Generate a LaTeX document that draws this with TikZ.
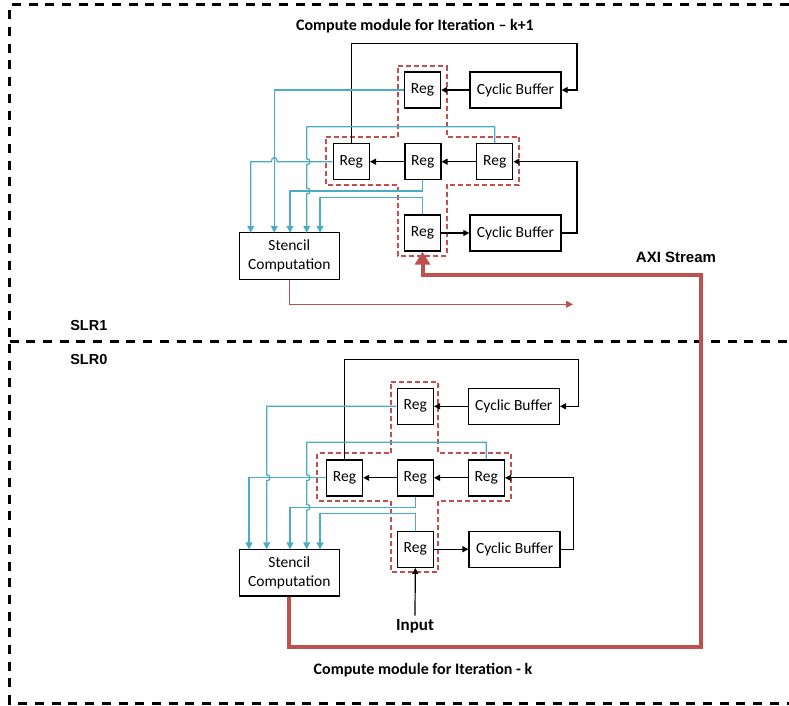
\documentclass[tikz,border=0pt]{standalone}
\usepackage{fontspec}
\setmainfont{Carlito}
\newfontfamily\arialfont{Liberation Sans}
\usetikzlibrary{arrows.meta}
\definecolor{boxred}{HTML}{C0504D}
\definecolor{wire}{HTML}{4BACC6}
\tikzset{
  box/.style={draw=black, line width=1.4pt, fill=white, inner sep=0pt,
    font=\fontsize{15.5}{19}\selectfont},
  regbox/.style={box, minimum width=36pt, minimum height=36pt},
  bufbox/.style={box, minimum width=91pt, minimum height=36pt},
  stenbox/.style={box, minimum width=100pt, minimum height=46.5pt, align=center},
  link/.style={line width=1.2pt, -{Triangle[length=6pt,width=6pt]}},
  wireline/.style={wire, line width=1.3pt, -{Triangle[length=7pt,width=7pt]}},
  group/.style={boxred, line width=1.9pt, dash pattern=on 5pt off 3pt},
  axi/.style={boxred, line width=4pt, -{Triangle[length=13pt,width=15pt]}},
  result/.style={boxred, line width=1.2pt, -{Triangle[length=7pt,width=7pt]}},
  region/.style={line width=3pt, dash pattern=on 9pt off 7.7pt},
  title/.style={font=\bfseries\fontsize{16}{18}\selectfont},
  slr/.style={font=\arialfont\bfseries\fontsize{14.5}{16}\selectfont},
}
\begin{document}
\begin{tikzpicture}[x=1pt, y=-1pt]
\useasboundingbox (0,0) rectangle (789,706);

% ---------- SLR regions ----------
\coordinate (bTR) at (789,5);
\coordinate (bTL) at (9.5,5);
\coordinate (bBL) at (9.5,703);
\coordinate (bBR) at (789,703);
\coordinate (dL) at (9.5,341.7);
\coordinate (dR) at (789,341.7);
\draw[region] (bTR) -- (bTL) -- (bBL) -- (bBR);
\draw[region] (dL) -- (dR);
\node[slr] (slr1) at (88.8,325.7) {SLR1};
\node[slr] (slr0) at (88.8,360) {SLR0};

% ================= module k+1 (SLR1) =================
\node[title] (utitle) at (415,26) {Compute module for Iteration – k+1};

\draw[group] (398.3,66) -- (446.7,66) -- (446.7,136.7) -- (519.3,136.7)
  -- (519.3,185) -- (446.7,185) -- (446.7,256) -- (398.3,256) -- (398.3,185)
  -- (326,185) -- (326,136.7) -- (398.3,136.7) -- cycle;

\node[regbox] (uRegT) at (422.5,90) {Reg};
\node[bufbox] (uCBT) at (515.5,90) {Cyclic Buffer};
\node[regbox] (uRegL) at (351.3,161.7) {Reg};
\node[regbox] (uRegM) at (422.8,161.7) {Reg};
\node[regbox] (uRegR) at (494.7,161.7) {Reg};
\node[regbox] (uRegB) at (422.5,233) {Reg};
\node[bufbox] (uCBB) at (515.5,233) {Cyclic Buffer};
\node[stenbox] (uSten) at (289.3,256) {Stencil\\Computation};

\coordinate (uTop) at (577,43.5);
\coordinate (uRet) at (577,161.7);
\draw[link] (uCBT.west) -- (uRegT.east);
\draw[link] (uRegM.west) -- (uRegL.east);
\draw[link] (uRegR.west) -- (uRegM.east);
\draw[link] (uRegB.east) -- (uCBB.west);
\draw[link] (uCBB.east) -| (uRet) -- (uRegR.east);
\draw[link] (uRegL.north) |- (uTop) |- (uCBT.east);

\coordinate (uIn1) at (250.7,232.75);
\coordinate (uIn2) at (274.3,232.75);
\coordinate (uIn3) at (290,232.75);
\coordinate (uIn4) at (306.7,232.75);
\coordinate (uIn5) at (320,232.75);
\draw[wireline] (uRegT.west) -| (uIn2);
\draw[wireline] (uRegL.west) -- (277.3,161.7) .. controls (277.3,156.2) and (271.3,156.2) .. (271.3,161.7) -- (250.7,161.7) -- (uIn1);
\draw[wireline] (uRegR.north) |- (306.7,126.7) -- (306.7,158.7)
  .. controls (311.2,158.7) and (311.2,164.7) .. (306.7,164.7) -- (306.7,188)
  .. controls (311.2,188) and (311.2,194) .. (306.7,194) -- (uIn4);
\draw[wireline] (uRegM.south) |- (290,191) -- (uIn3);
\draw[wireline] (uRegB.north) |- (320,197.3) -- (uIn5);

\coordinate (uOut) at (573,304.3);
\draw[result] (uSten.south) |- (uOut);

% ================= module k (SLR0) =================
\node[title] (ltitle) at (423,670) {Compute module for Iteration - k};

\draw[group] (390.7,382.3) -- (438.3,382.3) -- (438.3,453.3) -- (511,453.3)
  -- (511,500.7) -- (438.3,500.7) -- (438.3,571.7) -- (390.7,571.7) -- (390.7,500.7)
  -- (317.3,500.7) -- (317.3,453.3) -- (390.7,453.3) -- cycle;

\node[regbox] (lRegT) at (415.3,406.3) {Reg};
\node[bufbox] (lCBT) at (513.8,406.3) {Cyclic Buffer};
\node[regbox] (lRegL) at (344.5,477.8) {Reg};
\node[regbox] (lRegM) at (415.3,477.8) {Reg};
\node[regbox] (lRegR) at (486.3,477.8) {Reg};
\node[regbox] (lRegB) at (415.3,549.2) {Reg};
\node[bufbox] (lCBB) at (514.6,549.2) {Cyclic Buffer};
\node[stenbox] (lSten) at (289.3,572.7) {Stencil\\Computation};
\node[font=\bfseries\fontsize{17}{19}\selectfont] (inp) at (415,626) {Input};

\coordinate (lTop) at (578.3,359.3);
\coordinate (lRet) at (573.3,477.8);
\draw[link] (lCBT.west) -- (lRegT.east);
\draw[link] (lRegM.west) -- (lRegL.east);
\draw[link] (lRegR.west) -- (lRegM.east);
\draw[link] (lRegB.east) -- (lCBB.west);
\draw[link] (lCBB.east) -| (lRet) -- (lRegR.east);
\draw[link] (lRegL.north) |- (lTop) |- (lCBT.east);
\draw[link] (inp.north) -- (lRegB.south);

\coordinate (lIn1) at (249,549.3);
\coordinate (lIn2) at (266.7,549.3);
\coordinate (lIn3) at (290,549.3);
\coordinate (lIn4) at (306.7,549.3);
\coordinate (lIn5) at (320,549.3);
\draw[wireline] (lRegT.west) -- (266.7,406.3) -- (266.7,474.8)
  .. controls (271.2,474.8) and (271.2,480.8) .. (266.7,480.8) -- (lIn2);
\draw[wireline] (lRegL.west) -| (lIn1);
\draw[wireline] (lRegR.north) |- (306.7,442.3) -- (306.7,474.8)
  .. controls (311.2,474.8) and (311.2,480.8) .. (306.7,480.8) -- (306.7,504.3)
  .. controls (311.2,504.3) and (311.2,510.3) .. (306.7,510.3) -- (lIn4);
\draw[wireline] (lRegM.south) |- (290,507.3) -- (lIn3);
\draw[wireline] (lRegB.north) |- (320,513.3) -- (lIn5);

% ---------- AXI stream between the modules ----------
\coordinate (axB) at (701,646.7);
\coordinate (axT) at (701,275);
\draw[axi] (lSten.south) |- (axB) -- (axT) -| (uRegB.south);
\node[slr, font=\arialfont\bfseries\fontsize{15}{17}\selectfont] (axilabel) at (676,257) {AXI Stream};

\end{tikzpicture}
\end{document}
